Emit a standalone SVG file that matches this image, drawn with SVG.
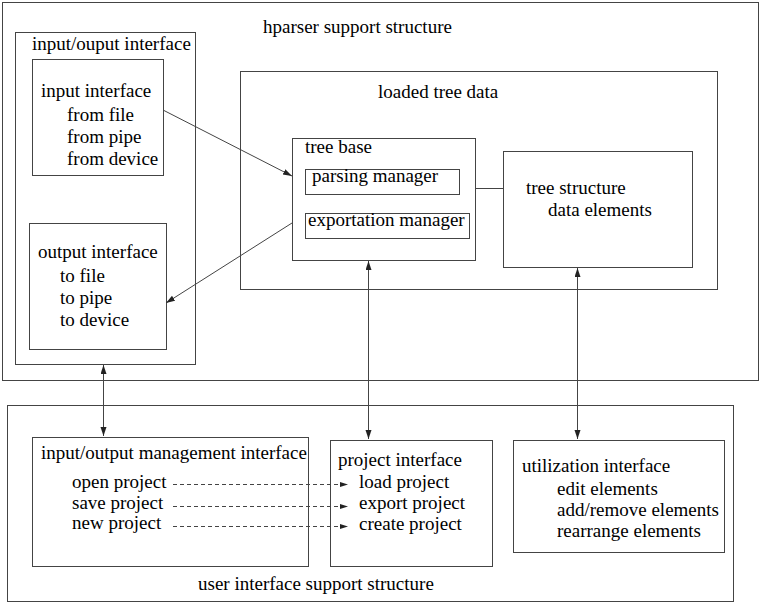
<svg xmlns="http://www.w3.org/2000/svg" width="762" height="604" viewBox="0 0 762 604">
<style>
.b{fill:none;stroke:#444;stroke-width:1}
.t{font-family:'Liberation Serif','DejaVu Serif',serif;font-size:19px;fill:#000}
.c{fill:none;stroke:#444;stroke-width:1}
.d{fill:none;stroke:#444;stroke-width:1;stroke-dasharray:4 3}
</style>
<defs>
<marker id="ah" markerUnits="userSpaceOnUse" markerWidth="10" markerHeight="8" refX="9" refY="3" orient="auto-start-reverse"><path d="M0,0 L9,3 L0,6 z" fill="#222"/></marker>
<marker id="sh" markerUnits="userSpaceOnUse" markerWidth="10" markerHeight="6" refX="8" refY="2.5" orient="auto"><path d="M0,0 L8,2.5 L0,5 z" fill="#222"/></marker>
</defs>
<rect width="762" height="604" fill="#fff"/>
<g id="hparser">
<rect class="b" x="2.5" y="2.5" width="756" height="378"/>
<text class="t" x="263" y="33">hparser support structure</text>
</g>
<g id="io">
<rect class="b" x="15.5" y="32.5" width="180" height="332"/>
<text class="t" x="32" y="50">input/ouput interface</text>
</g>
<g id="input">
<rect class="b" x="32.5" y="59.5" width="131" height="116"/>
<text class="t" x="41" y="97">input interface</text>
<text class="t" x="67" y="121">from file</text>
<text class="t" x="67" y="143">from pipe</text>
<text class="t" x="67" y="165">from device</text>
</g>
<g id="output">
<rect class="b" x="29.5" y="223.5" width="137" height="126"/>
<text class="t" x="38" y="258">output interface</text>
<text class="t" x="60" y="282">to file</text>
<text class="t" x="60" y="304">to pipe</text>
<text class="t" x="60" y="326">to device</text>
</g>
<g id="loaded">
<rect class="b" x="240.5" y="71.5" width="477" height="218"/>
<text class="t" x="378" y="98">loaded tree data</text>
</g>
<g id="treebase">
<rect class="b" x="292.5" y="138.5" width="183" height="122"/>
<text class="t" x="305" y="153">tree base</text>
</g>
<g id="parsing">
<rect class="b" x="305.5" y="169.5" width="154" height="25"/>
<text class="t" x="312" y="182">parsing manager</text>
</g>
<g id="exportation">
<rect class="b" x="305.5" y="213.5" width="164" height="25"/>
<text class="t" x="308" y="226">exportation manager</text>
</g>
<g id="treestructure">
<rect class="b" x="503.5" y="151.5" width="189" height="116"/>
<text class="t" x="526" y="194">tree structure</text>
<text class="t" x="548" y="216">data elements</text>
</g>
<g id="ui">
<rect class="b" x="7.5" y="405.5" width="726" height="196"/>
<text class="t" x="198" y="590">user interface support structure</text>
</g>
<g id="iomgmt">
<rect class="b" x="32.5" y="437.5" width="276" height="129"/>
<text class="t" x="41" y="459">input/output management interface</text>
<text class="t" x="72" y="488">open project</text>
<text class="t" x="72" y="509">save project</text>
<text class="t" x="72" y="529">new project</text>
</g>
<g id="project">
<rect class="b" x="330.5" y="440.5" width="162" height="126"/>
<text class="t" x="338" y="466">project interface</text>
<text class="t" x="359" y="488">load project</text>
<text class="t" x="359" y="509">export project</text>
<text class="t" x="359" y="530">create project</text>
</g>
<g id="utilization">
<rect class="b" x="513.5" y="440.5" width="211" height="112"/>
<text class="t" x="522" y="472">utilization interface</text>
<text class="t" x="557" y="495">edit elements</text>
<text class="t" x="557" y="516">add/remove elements</text>
<text class="t" x="557" y="537">rearrange elements</text>
</g>
<g id="connectors">
<line class="c" x1="163" y1="110" x2="292" y2="176" marker-end="url(#ah)"/>
<line class="c" x1="292" y1="223" x2="166" y2="303" marker-end="url(#ah)"/>
<line class="c" x1="103.5" y1="365" x2="103.5" y2="436" marker-start="url(#ah)" marker-end="url(#ah)"/>
<line class="c" x1="368.5" y1="261" x2="368.5" y2="439" marker-start="url(#ah)" marker-end="url(#ah)"/>
<line class="c" x1="577.5" y1="268" x2="577.5" y2="439" marker-start="url(#ah)" marker-end="url(#ah)"/>
<line class="c" x1="476" y1="188.5" x2="503" y2="188.5"/>
<line class="d" x1="173" y1="484.5" x2="348" y2="484.5" marker-end="url(#sh)"/>
<line class="d" x1="173" y1="506.5" x2="348" y2="506.5" marker-end="url(#sh)"/>
<line class="d" x1="173" y1="526.5" x2="348" y2="526.5" marker-end="url(#sh)"/>
</g>
</svg>
